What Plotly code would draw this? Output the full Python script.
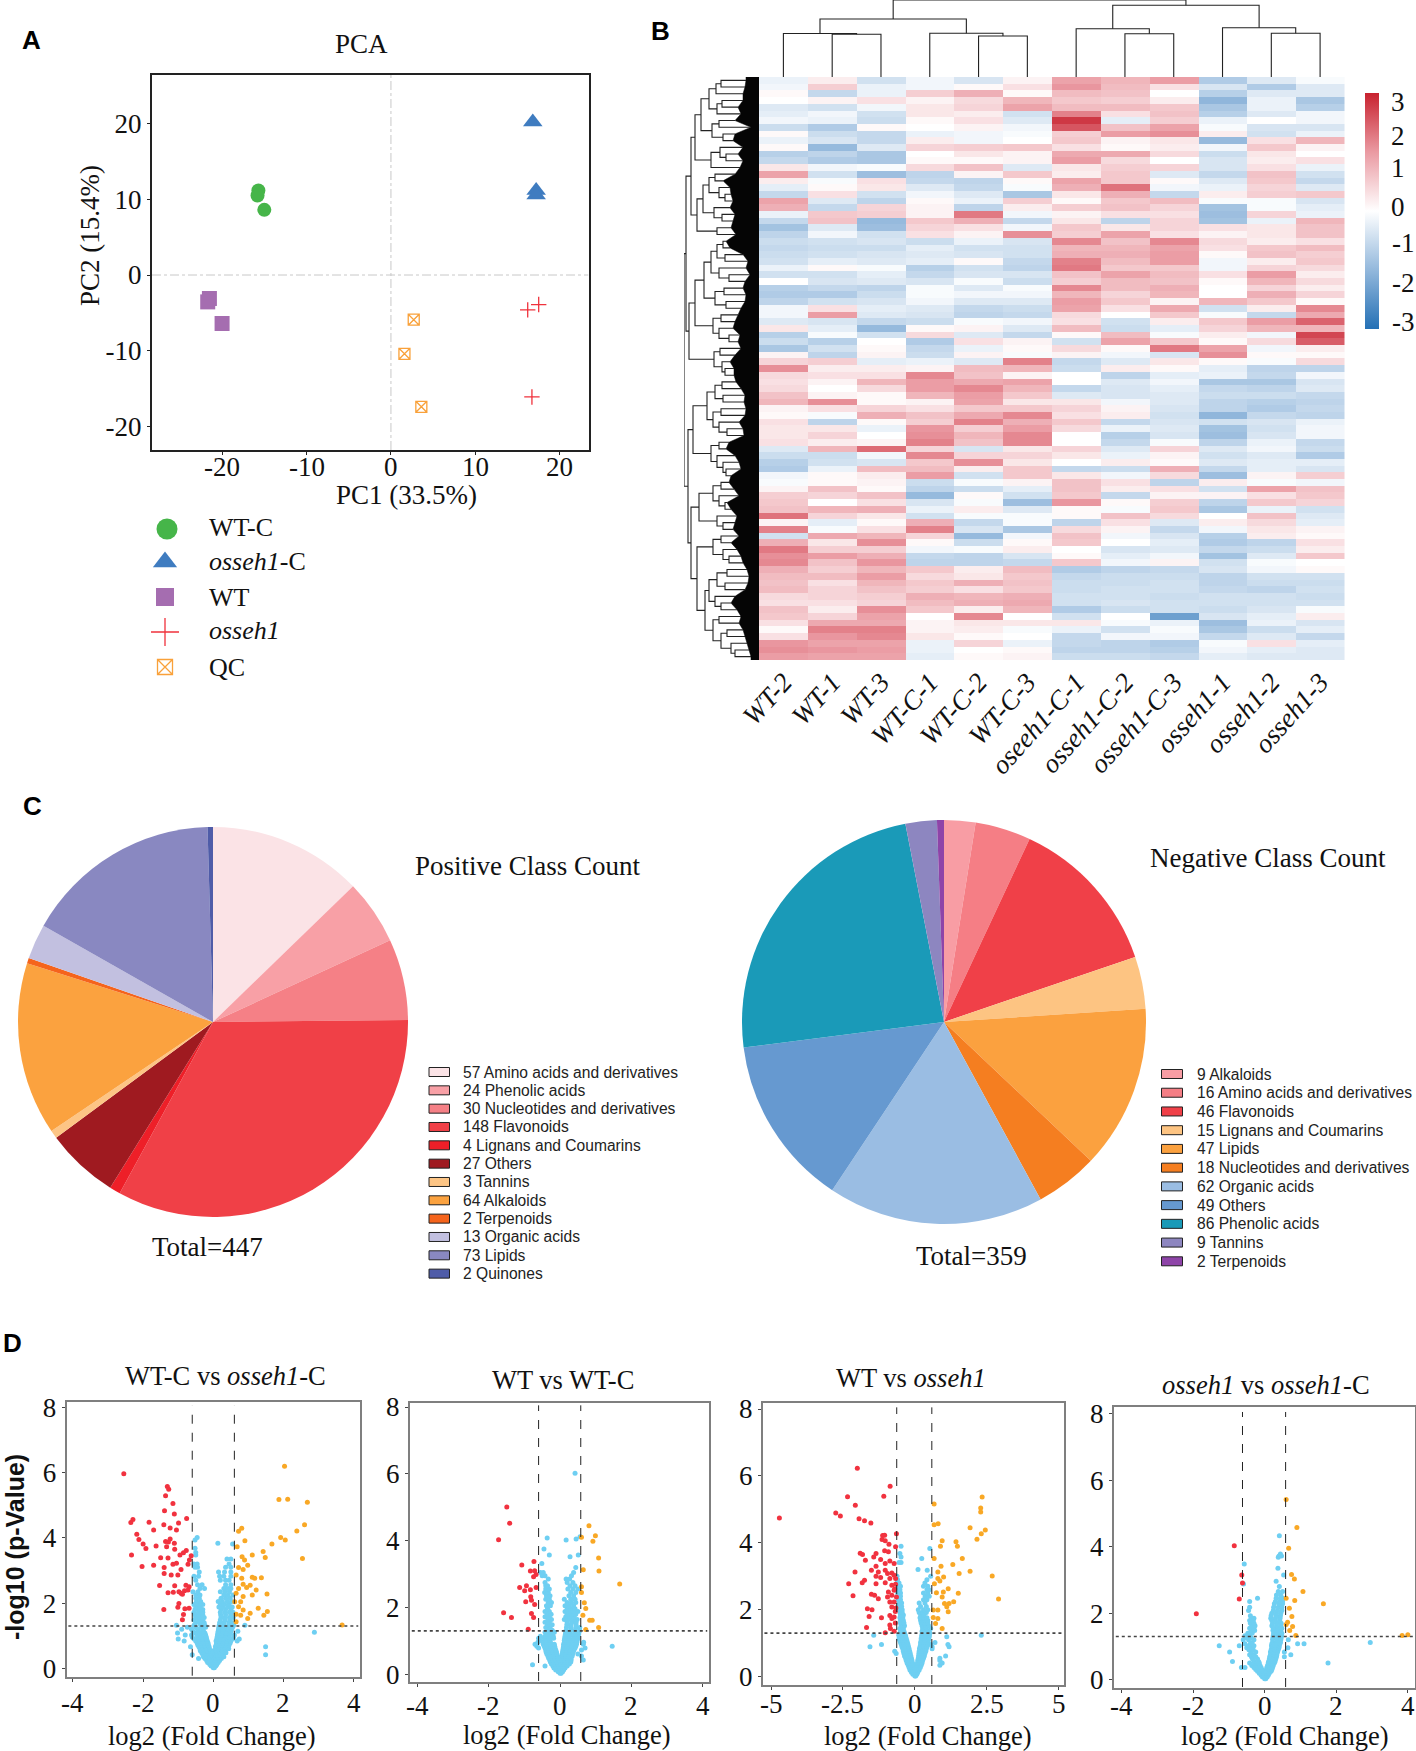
import plotly.graph_objects as go

W, H = 1416, 1751
SERIF = "Liberation Serif"
SANS = "Liberation Sans"

# ===== A: PCA =====
PCA_NAMES = ["WT-C", "<i>osseh1</i>-C", "WT", "<i>osseh1</i>", "QC"]
PCA_X = [[-15.7, -15.8, -15.0], [16.8, 17.2, 17.2], [-21.5, -21.7, -20.0], [17.5, 16.2, 16.7], [2.7, 1.6, 3.6]]
PCA_Y = [[11.15, 10.5, 8.6], [20.2, 11.15, 10.55], [-3.1, -3.55, -6.4], [-3.9, -4.6, -16.1], [-5.9, -10.4, -17.4]]
PCA_SYMBOLS = ["circle", "triangle-up", "square", "cross-thin-open", "square-x-open"]
PCA_SIZES = [14, 17, 15, 11, 11]
PCA_LEGEND_SIZES = [21, 21, 18, 20, 15]
PCA_COLORS = ["#46b549", "#3f7cc0", "#a56db0", "#f0323c", "#f9a13a"]

# ===== B: heatmap =====
SAMPLES = ["WT-2", "WT-1", "WT-3", "WT-C-1", "WT-C-2", "WT-C-3", "oseeh1-C-1", "osseh1-C-2", "osseh1-C-3",
           "osseh1-1", "osseh1-2", "osseh1-3"]
HEAT_ROWS = [
    [-.3,.3,-.7,-.2,-.6,.2,1.5,1.2,1.6,-1.2,-.5,-.1],
    [-.2,.8,-.3,-.2,.1,.5,1.7,1.1,.5,-.6,-1.2,-.5],
    [.1,-.9,-.3,.8,1.3,.1,1.1,1.0,0,-1.1,-.5,-.5],
    [0,.2,.5,.2,.6,1.2,.9,.8,.3,-1.7,-.3,-1.3],
    [-.5,-.7,-.2,.4,.7,1.5,1.1,1.1,.9,-1.3,-.3,-1.1],
    [-.4,-.2,-.7,.4,.3,-.7,2.0,.5,1.0,-1.1,-.5,-.2],
    [-.2,-.3,-.8,.1,.5,-.5,3.0,-.4,.8,-.3,0,-.2],
    [-.8,-1.2,.1,0,.2,-.2,2.6,1.0,1.5,-.1,-.6,-.6],
    [.1,-.8,-.9,-.3,-.2,-.1,.8,1.6,1.8,.3,-.7,-.3],
    [-.3,-.6,-.9,.3,-.2,0,.9,.2,.4,-1.6,.5,1.2],
    [.1,-1.6,-.5,.7,.8,.9,.5,.1,.3,-.2,.9,.2],
    [-1.1,-1.0,-1.3,0,.4,.2,1.4,1.4,.6,-.8,.4,0],
    [-.9,-1.2,-1.3,.1,.1,.2,1.6,.6,0,-.6,.3,.5],
    [.4,-.2,-.1,.6,1.0,-.5,.4,.8,.7,-.6,.5,-.3],
    [1.5,-.7,-1.5,-1.0,.2,.9,.3,.9,-.5,-.9,1.0,-.7],
    [.3,-.1,.5,-.9,-1.0,.1,1.5,.9,.1,-.5,.9,-.9],
    [-.4,.1,.4,-.5,-.9,-.1,1.3,2.2,-.2,-.3,.7,-.5],
    [-.9,.5,-.7,-.2,-.5,-1.3,.4,1.3,-.9,.3,.8,.9],
    [1.5,-.5,-1.0,.1,-.3,.8,.1,.9,1.1,-.1,-.1,-.6],
    [1.3,-.9,.7,.2,-1.0,.3,.8,1.0,.7,-1.4,-.1,-.4],
    [-.3,.9,.8,.2,2.1,-.2,.2,.5,.5,-1.5,.7,-.3],
    [-.9,1.0,-1.6,.9,1.3,-.9,.4,-1.0,.7,-1.4,-.3,1.2],
    [-1.4,-.5,-1.5,.7,.5,-.2,.9,.4,.7,.5,.4,1.0],
    [-1.0,-.2,-.7,.5,.2,1.8,.8,1.5,.5,.2,.4,1.0],
    [-.8,-.7,-.6,-.8,-.3,-.6,1.9,1.0,1.9,.6,.3,.5],
    [-.9,-.8,-.8,-.4,-.7,-.7,1.2,1.2,1.5,.5,.9,1.1],
    [-.8,-.7,-.6,-.5,-.6,-.7,1.3,1.3,1.6,.1,1.0,.8],
    [-.7,-.4,-.5,-.4,.1,-.9,2.0,1.1,1.6,-.2,.3,.9],
    [-.3,.1,-.1,-1.1,-.7,-1.0,2.1,.9,.9,-.2,.7,.6],
    [-.7,-.7,-.4,-.9,-.6,-.6,1.0,1.5,1.1,.5,1.6,.3],
    [0,-.6,-.5,-.6,-.1,-.8,.8,1.1,1.0,.1,1.2,.6],
    [-1.1,-.9,-1.0,-.1,-.5,-.1,1.9,1.1,1.3,0,.7,.3],
    [-1.2,-1.2,-.8,-.1,-.2,-.2,1.2,.7,1.2,0,1.3,.7],
    [-1.0,-.7,-.6,-.2,-.5,-.5,1.6,.9,.2,1.2,.9,.1],
    [-.2,.5,-.4,-.5,-.9,-.8,1.5,.5,1.4,-.7,.3,1.9],
    [-.2,1.6,-.5,-.6,-1.0,-.9,.6,0,.9,-.1,-.9,1.4],
    [-.5,-.6,-.9,-.8,-.1,-.2,.5,-.7,.3,.9,1.6,2.4],
    [.4,-.4,-1.6,.1,.2,-.5,1.1,-.8,-.4,.7,1.2,1.2],
    [-1.1,-.1,-.7,.6,-.5,-.9,.1,1.1,-.1,.3,-.2,2.8],
    [-.8,-1.1,0,-1.2,.5,.2,-.7,1.5,.9,.1,.6,2.5],
    [-1.3,-.7,.1,-.9,-.3,.1,.6,.1,2.1,1.5,-.2,.3],
    [.2,-1.0,.2,-.8,.2,-.1,.2,-.2,-.6,1.8,.1,.1],
    [.7,.8,-.4,-.3,-.5,2.0,-.9,-.5,.4,.1,-.1,.6],
    [1.8,.3,.3,.2,1.1,1.2,-.8,.3,.1,-.4,-1.0,-1.0],
    [.6,.5,.5,1.9,1.0,.2,0,-1.0,-.4,-.3,-.9,-.2],
    [.5,.2,1.2,1.6,1.4,1.5,0,-.5,-.2,-1.3,-1.3,-.6],
    [.6,0,.6,1.6,1.9,1.2,-.9,-.6,-.4,-.9,-1.0,-.5],
    [1.0,.2,.1,1.2,1.6,.9,-.5,-.6,-.5,-.8,-.8,-.9],
    [1.2,1.8,.1,.2,1.5,.4,.4,-.2,-.5,-1.0,-1.1,-1.0],
    [.2,.5,.7,.5,.9,.9,.7,.2,-.6,-1.0,-1.2,-.9],
    [.1,-.1,1.3,1.0,1.4,1.9,.5,.3,-.7,-1.7,-.9,-1.0],
    [.5,-1.0,.1,.8,2.0,1.3,.9,-.9,-.6,-.7,-.6,-.3],
    [.4,.4,-.3,1.7,.8,1.6,.6,-.3,-.5,-1.4,-.7,-.2],
    [.4,.7,0,1.8,1.2,1.9,0,-1.1,-.6,-1.5,-.6,-.2],
    [.5,.3,.2,2.0,1.0,1.9,0,-.9,-.1,-1.0,-.3,-.9],
    [-.5,1.2,2.3,.7,-.6,.4,.7,-.5,.7,-.5,-.2,-.8],
    [-.8,-.8,-.2,1.9,.7,.7,.4,-.3,.2,-.7,-.5,-1.2],
    [-1.1,-.7,-.6,.9,1.8,.4,0,.3,.1,-.5,-.4,-.4],
    [-1.2,-.3,1.1,1.1,.3,.9,-.9,-.8,1.3,-.9,-.4,-.6],
    [-.2,.1,.3,1.6,-.7,.9,.4,-.2,.6,-1.5,.2,.8],
    [-.1,.1,.2,-.8,-.1,.2,1.0,.5,-1.0,.3,-.1,-.2],
    [.2,1.0,.1,-1.0,-.8,-.4,1.0,.3,.5,-.7,1.5,1.0],
    [.8,.7,1.0,-1.6,.1,-.7,.9,-.9,.2,.2,.5,.9],
    [.9,0,.5,-.6,-.1,-1.5,1.7,.1,.8,-1.0,.9,.7],
    [1.0,1.2,1.3,-.3,.3,-.5,.1,-.1,.9,-1.3,-.3,-.7],
    [2.2,.7,.4,-.7,-.1,-.1,.1,1.0,.6,0,1.0,-.5],
    [.2,-.4,.1,1.3,-.9,-.1,-1.0,.5,-.5,.3,.6,-.4],
    [2.0,-.1,.5,2.0,-.6,-1.3,.6,.2,-.9,-.2,.4,.2],
    [-.7,1.4,1.2,.7,-1.6,-.2,1.0,-.2,-.6,-1.1,.3,.1],
    [1.3,.4,1.8,.1,-.8,.1,.9,0,-.4,-1.2,-1.0,.5],
    [2.1,.8,.8,-.2,-.1,.3,0,-.6,-.5,-.9,-.8,.3],
    [1.8,1.6,1.3,-.9,-1.0,-.6,.1,-.4,-.2,-1.4,-.5,.9],
    [1.9,1.0,1.7,-1.0,-1.0,-.9,.9,-.2,.2,-.7,-.1,0],
    [1.3,.8,1.2,.9,.3,1.1,-1.2,-1.0,-.9,-.6,-.2,.1],
    [1.1,1.1,1.6,.6,.4,.9,-.9,-.8,-.8,-1.0,-.7,-.7],
    [1.0,.5,1.2,.9,1.3,1.0,-.8,-.8,-.7,-1.0,-.8,-.8],
    [1.1,.7,1.0,.8,.5,.9,-.8,-.7,-.7,-.9,-1.0,-.7],
    [.6,.7,.8,1.3,1.2,1.3,-.7,-.7,-.8,-.7,-.7,-.8],
    [.5,.5,.7,1.1,1.3,1.4,-.7,-.6,-.7,-.7,-.7,-.7],
    [1.0,.3,1.8,.9,.3,1.2,-1.2,-.8,-.7,-.8,-.6,-.1],
    [.9,.7,1.5,0,1.9,0,-.7,0,-2.2,-.6,-.4,.3],
    [.5,1.4,1.4,.2,.4,.4,.4,-.1,-.3,-1.5,-.3,-.6],
    [.1,2.0,2.0,.2,.3,-.1,-.3,-.7,-.1,-1.3,-.8,-.4],
    [.5,1.7,1.9,.4,.1,0,-.9,-.2,-.2,-.9,-.5,-.9],
    [1.7,1.5,1.5,-.3,.7,-.3,-.9,-1.0,-1.2,-.1,.5,-.4],
    [1.8,1.7,1.6,-.3,0,.1,-1.0,-1.0,-1.1,-.2,-.4,-.5],
    [1.6,1.5,1.5,-.4,.1,.2,-.8,-.8,-.9,-.4,-.5,-.5],
]
HEAT_SCALE = [[0, "#2470b5"], [0.25, "#93b8dc"], [0.5, "#ffffff"], [0.75, "#ea9aa2"], [1, "#c8222f"]]
COLORBAR_LABELS = ["3", "2", "1", "0", "-1", "-2", "-3"]
COLORBAR_LABEL_Y = [102, 136, 168, 207, 243, 283, 322]

# dendrograms: (merge height, child, child), a bare number is a leaf index
COL_TREE = (77, (58, (43.5, 0, (42.7, 1, 2)), (43.7, 3, (41, 4, 5))),
            (71.7, (48.3, 6, (43.3, 7, 8)), (49.3, 9, (43.7, 10, 11))))
ROW_DEPTH = [13, 14, 16, 16, 21, 18, 24, 8, 24, 26, 16, 21, 16, 19, 24, 36, 29, 28, 26, 29, 24, 26, 28, 23, 33, 29,
             16, 11, 13, 9, 14, 16, 13, 14, 18, 21, 24, 26, 19, 21, 18, 24, 29, 25, 25, 23, 18, 14, 15, 13, 14, 20,
             16, 15, 30, 33, 24, 20, 18, 28, 30, 25, 20, 32, 28, 22, 24, 26, 20, 28, 22, 18, 16, 12, 10, 11, 14, 24,
             28, 22, 18, 20, 16, 14, 12, 10, 8]
TA = (50, (43, (38, 0, 1), 2), (42, (37, 3, 4), 5))
TB = (47, (40, 6, 7), (36, 8, 9))
TC = (48, (39, 10, (33, 11, 12)), 13)
TD = (50, (44, 14, 15), (40, 16, (34, 17, 18)))
TE = (45, 19, (37, 20, 21))
TF = (42, 22, 23)
TG = (55, (48, (42, (36, 24, 25), (34, 26, 27)), (40, 28, (30, 29, 30))), (44, (35, 31, 32), (33, 33, 34)))
TH = (46, (38, 35, 36), (40, 37, (30, 38, 39)))
TI = (45, (39, 40, 41), (37, 42, (34, 43, 44)))
TJ = (52, (44, (37, 45, 46), (36, 47, 48)), (46, (38, 49, 50), (40, 51, (32, 52, 53))))
TK = (48, (40, 54, 55), (42, 56, (36, 57, (33, 58, 59))))
TL = (46, (38, 60, 61), (40, 62, (34, 63, 64)))
TM = (42, 65, (36, 66, 67))
TN = (46, (38, 68, 69), (36, 70, (30, 71, 72)))
TO = (50, (42, (32, 73, 74), (34, 75, 76)), (44, 77, (38, 78, 79)))
TP = (46, (40, 80, 81), (38, (32, 82, 83), (28, 84, (24, 85, 86))))
ROW_TREE = (75, (73, (68, (64, (58, TA, TB), TC), (62, (56, TD, TE), TF)), (70, (64, TG, TH), TI)),
            (71, (66, TJ, TK), (68, (60, TL, TM), (62, TN, (54, TO, TP)))))

# ===== C: pies =====
POS_LABELS = ["Amino acids and derivatives", "Phenolic acids", "Nucleotides and derivatives", "Flavonoids",
              "Lignans and Coumarins", "Others", "Tannins", "Alkaloids", "Terpenoids", "Organic acids", "Lipids", "Quinones"]
POS_VALUES = [57, 24, 30, 148, 4, 27, 3, 64, 2, 13, 73, 2]
POS_COLORS = ["#fbe3e6", "#f8a0a6", "#f58086", "#f04047", "#ee1f28", "#9f1a20", "#fdc585", "#fba23f", "#f5641c",
              "#c2c0e0", "#8988c1", "#4f5ca8"]
NEG_LABELS = ["Alkaloids", "Amino acids and derivatives", "Flavonoids", "Lignans and Coumarins", "Lipids",
              "Nucleotides and derivatives", "Organic acids", "Others", "Phenolic acids", "Tannins", "Terpenoids"]
NEG_VALUES = [9, 16, 46, 15, 47, 18, 62, 49, 86, 9, 2]
NEG_COLORS = ["#f89da4", "#f57e85", "#f04048", "#fdc482", "#fba13f", "#f57e20", "#9abde3", "#6699d0", "#1a9ab8",
              "#8d86c0", "#8e44a8"]

# ===== D: volcanoes (x, y) =====
P1_RED = [(-2.55,5.96),(-1.31,5.57),(-1.27,5.49),(-1.15,5.05),(-1.36,5.29),(-1.39,4.83),(-1.11,4.73),(-.76,4.59),
          (-2.35,4.47),(-2.29,4.56),(-1.83,4.48),(-1.41,4.40),(-.99,4.45),(-1.23,4.30),(-1.05,4.24),(-1.70,4.24),
          (-2.18,4.11),(-2.12,3.95),(-2.0,3.81),(-1.92,3.67),(-1.63,3.75),(-1.36,3.89),(-1.23,3.96),(-1.28,3.87),
          (-1.11,3.83),(-1.33,3.73),(-1.10,3.65),(-.77,3.61),(-.85,3.54),(-2.33,3.47),(-1.50,3.39),(-1.29,3.38),
          (-.95,3.47),(-.63,3.45),(-.68,3.32),(-2.03,3.12),(-1.70,3.16),(-1.40,3.09),(-1.15,3.19),(-1.05,3.22),
          (-.72,3.19),(-1.40,2.91),(-1.20,2.86),(-1.01,2.86),(-.92,3.03),(-1.53,2.54),(-1.10,2.53),(-.78,2.55),
          (-.69,2.50),(-1.29,2.32),(-1.14,2.33),(-.98,2.35),(-.92,2.30),(-.82,2.38),(-.72,2.40),(-.88,2.27),
          (-.98,1.99),(-1.01,1.87),(-1.41,1.80),(-.81,1.83),(-.69,1.84),(-.85,1.65),(-.88,1.49)]
P1_ORANGE = [(2.03,6.19),(1.87,5.17),(2.12,5.18),(2.68,5.09),(2.60,4.40),(2.38,4.21),(1.92,4.01),(2.05,3.93),(.81,4.29),
             (.72,4.20),(.90,3.91),(1.67,3.81),(1.42,3.58),(1.48,3.40),(1.11,3.47),(2.54,3.37),(.82,3.42),(.89,3.32),
             (.68,3.73),(.98,3.16),(.72,3.09),(.85,3.03),(1.11,2.79),(1.37,2.78),(.65,2.86),(.81,2.76),(1.18,2.76),
             (1.05,2.55),(.85,2.58),(.72,2.45),(.95,2.48),(1.22,2.40),(1.53,2.28),(.65,2.30),(.85,2.20),(1.11,2.25),
             (.61,2.04),(.78,2.04),(.72,1.89),(.85,1.79),(1.28,1.84),(1.54,1.74),(1.44,1.63),(.65,1.66),(1.05,1.69),
             (.78,1.63),(.98,1.53),(.65,1.43),(3.67,1.33)]
P1_BLUE = {.02:[0,.03], .07:[-.06,.01,.07], .12:[-.1,-.04,.03,.1], .18:[-.16,-.08,-.01,.06,.14],
           .24:[-.19,-.12,-.04,.03,.1,.18], .3:[-.42,-.24,-.15,-.07,.01,.08,.15,.23],
           .36:[-.28,-.18,-.1,-.02,.06,.13,.21,.3], .42:[-.6,-.3,-.22,-.13,-.05,.04,.12,.2,.28,1.49],
           .48:[-.33,-.24,-.16,-.07,.03,.1,.18,.26,.36], .54:[-.37,-.27,-.18,-.09,0,.08,.17,.25,.34],
           .6:[-.38,-.29,-.2,-.11,.07,.15,.24,.33,.44], .66:[-.65,-.41,-.31,-.22,-.12,.06,.14,.23,.32,.42,1.49],
           .72:[-.44,-.34,-.24,-.14,.08,.16,.25,.35,.45], .78:[-.46,-.36,-.26,-.15,.09,.18,.27,.37,.48],
           .84:[-.83,-.5,-.38,-.28,-.17,.08,.17,.28,.38,.5,.68], .9:[-1.0,-.55,-.41,-.3,-.19,.1,.2,.3,.42,.55,.74],
           .96:[-.6,-.44,-.33,-.2,.11,.22,.32,.44,.58], 1.02:[-.8,-.62,-.46,-.35,-.22,.12,.23,.34,.46,.6],
           1.08:[-1.02,-.52,-.38,-.24,.13,.24,.36,.48], 1.11:[2.88], 1.14:[-.58,-.42,-.28,.14,.26,.38,.5,.7],
           1.2:[-.9,-.62,-.45,-.3,.15,.27,.4,.52], 1.26:[-.74,-.5,-.34,-.22,.16,.28,.42,.55],
           1.32:[-1.05,-.55,-.36,-.24,.17,.3,.44,.58,.9], 1.4:[-.5,-.38,-.26,.18,.3,.44,.56],
           1.48:[-.55,-.42,-.3,.2,.34,.48], 1.56:[-.5,-.38,-.26,.22,.33,.46,.57], 1.64:[-.52,-.4,-.3,.21,.35,.5],
           1.72:[-.55,-.42,-.3,.2,.33,.46,.56], 1.8:[-.52,-.4,-.3,.22,.35,.5], 1.88:[-.5,-.38,.16,.28,.42,.54],
           1.96:[-.55,-.42,-.3,.2,.32,.45], 2.05:[-.48,-.36,.14,.26,.4,.52], 2.15:[-.5,-.4,.22,.35,.48],
           2.25:[-.5,-.38,.3,.42,.56], 2.35:[-.58,-.44,.2,.33,.46], 2.45:[-.38,-.25,.3,.42,.5], 2.56:[-.45,-.32,.35,.5],
           2.7:[-.5,.2,.35,.45], 2.82:[-.55,-.42,.18,.3,.5], 2.95:[-.4,.15,.32,.5], 3.1:[-.52,-.45,.35,.5],
           3.2:[-.55,-.46,.45], 3.35:[.39,.5], 3.47:[-.5], 3.55:[-.5], 3.68:[-.52], 3.81:[.55], 3.83:[.13], 3.93:[-.52], 4.01:[-.46]}

P2_RED = [(-1.49,5.01),(-1.41,4.52),(-1.72,4.03),(-.73,3.38),(-1.07,3.27),(-.83,3.09),(-.71,3.10),(-.67,2.99),(-.74,2.92),
          (-1.13,2.6),(-.94,2.65),(-.67,2.6),(-.99,2.5),(-.83,2.53),(-.96,2.17),(-.82,2.32),(-.8,2.22),(-.71,2.09),
          (-1.58,1.84),(-1.36,1.7),(-.8,1.82),(-.74,1.7),(-.89,1.35)]
P2_ORANGE = [(.81,4.45),(.99,4.15),(.6,4.1),(.92,3.98),(1.08,3.48),(1.09,3.09),(.65,3.13),(1.67,2.7),(.6,2.62),(.6,2.45),
             (.68,2.14),(.72,1.97),(.64,1.77),(.83,1.62),(.9,1.62),(1.08,1.4),(.72,1.34)]
P2_BLUE = {.03:[0,.03], .08:[-.05,.02,.07], .13:[-.12,-.05,.03,.1], .19:[-.17,-.08,-.01,.06,.14],
           .25:[-.42,-.2,-.12,-.04,.04,.12,.2], .29:[-.77], .31:[-.24,-.15,-.06,.02,.1,.18,.26],
           .37:[-.27,-.18,-.09,.07,.14,.22,.3], .43:[-.29,-.2,-.11,-.03,.05,.13,.22,.31,.65],
           .49:[-.32,-.23,-.14,-.06,.04,.12,.21,.31], .55:[-.34,-.25,-.16,-.07,.06,.15,.24,.34,.6],
           .61:[-.37,-.28,-.18,-.09,.06,.15,.25,.35,.5], .67:[-.39,-.3,-.2,-.1,.07,.16,.27,.37],
           .73:[-.4,-.31,-.22,-.12,.08,.18,.28,.39,.6], .79:[-.6,-.42,-.33,-.24,-.14,.09,.19,.3,.42,.7],
           .84:[-.65,-.44,-.34,-.25,-.15,.1,.2,.32,.44,1.46], .9:[-.7,-.47,-.36,-.26,-.16,.1,.22,.33,.46,.65],
           .96:[-.62,-.48,-.37,-.27,.12,.23,.35,.47,.66], 1.02:[-.55,-.4,-.28,.12,.24,.36,.48],
           1.08:[-.6,-.44,-.3,-.18,.13,.25,.38,.5], 1.14:[-.55,-.42,-.31,-.19,.14,.26,.38,.5],
           1.2:[-.35,-.22,.15,.27,.4,.52], 1.26:[-.42,-.28,-.16,.16,.28,.42,.53], 1.32:[-.34,-.22,.17,.3,.42,.55],
           1.4:[-.4,-.28,.18,.3,.44,.55], 1.48:[-.35,-.22,.19,.31,.45], 1.56:[-.42,-.3,.2,.33,.45],
           1.64:[-.34,-.24,.12,.24,.36,.48], 1.72:[-.42,-.3,.16,.28,.4], 1.8:[-.36,-.25,.2,.32,.44],
           1.88:[-.3,-.42,.14,.26,.38,.5], 1.96:[-.35,.2,.3,.42], 2.05:[-.38,-.27,.14,.26,.38],
           2.15:[-.33,-.24,.2,.32,.44], 2.25:[-.4,-.3,.12,.3,.42], 2.35:[-.38,-.28,.25,.38], 2.45:[-.43,-.33,.3,.44],
           2.55:[-.4,-.3,.22,.36,.5], 2.65:[-.4,-.35,.28,.42], 2.75:[-.42,.2,.36], 2.85:[-.33,.17,.27],
           2.95:[-.5,-.42,.32], 3.05:[-.55,-.47,.38], 3.2:[.44], 3.32:[-.51], 3.52:[.28], 3.57:[-.3,.51],
           3.75:[-.45], 4.02:[.17], 4.05:[.45], 4.08:[-.36], 4.12:[.56], 6.02:[.42]}

P3_RED = [(-2.0,6.23),(-.86,5.69),(-2.34,5.38),(-1.08,5.39),(-2.07,5.12),(-2.75,4.89),(-2.59,4.8),(-4.71,4.74),(-1.94,4.72),
          (-1.75,4.66),(-1.53,4.59),(-.64,4.27),(-1.12,4.22),(-1.05,4.23),(-1.14,4.1),(-1.03,4.06),(-.9,3.96),(-.67,3.88),
          (-1.05,3.76),(-.92,3.73),(-1.9,3.69),(-1.82,3.65),(-1.35,3.68),(-1.43,3.58),(-1.72,3.48),(-1.19,3.5),(-.87,3.46),
          (-1.03,3.38),(-1.35,3.3),(-.72,3.38),(-2.08,3.13),(-1.51,3.18),(-1.27,3.13),(-1.03,3.18),(-.95,3.08),(-.8,3.1),
          (-.72,3.03),(-1.35,3.0),(-1.19,2.96),(-.87,2.93),(-.67,2.93),(-1.75,2.88),(-1.83,2.81),(-2.3,2.78),(-1.35,2.78),
          (-1.03,2.81),(-.8,2.73),(-.67,2.76),(-.92,2.53),(-.72,2.58),(-.8,2.43),(-2.15,2.42),(-1.51,2.46),(-1.4,2.43),
          (-1.27,2.33),(-.95,2.38),(-.87,2.23),(-.72,2.23),(-.64,2.38),(-1.65,2.03),(-1.49,2.0),(-.8,2.08),(-1.59,1.8),
          (-1.16,1.76),(-.87,1.83),(-.72,1.78),(-.8,1.74),(-1.68,1.47),(-.87,1.54),(-1.03,1.31),(-.72,1.36),(-.85,1.44),
          (-.68,1.6),(-.66,2.05),(-.7,2.62),(-.68,1.95)]
P3_ORANGE = [(2.34,5.37),(2.29,5.04),(2.29,4.92),(.67,5.16),(.81,4.57),(.67,4.54),(1.92,4.45),(2.45,4.38),(2.31,4.27),
             (2.16,4.11),(.95,4.06),(1.43,4.03),(1.48,3.9),(.89,3.9),(1.65,3.53),(.67,3.53),(1.32,3.35),(.91,3.3),(1.92,3.15),
             (1.54,3.08),(.8,3.13),(2.69,3.01),(1.0,2.98),(.8,2.93),(.87,2.86),(.68,2.78),(1.16,2.63),(.99,2.53),(.75,2.51),
             (1.51,2.49),(2.91,2.32),(.95,2.38),(1.35,2.24),(1.19,2.19),(1.03,2.19),(1.11,2.09),(.64,1.99),(.8,1.99),(1.16,1.94),
             (.64,1.77),(.8,1.74),(.72,1.59),(.95,1.44)]
P3_BLUE = {.02:[0,.03], .07:[-.07,0,.07], .13:[-.12,-.05,.03,.1], .2:[-.17,-.08,.02,.08,.15],
           .27:[-.2,-.11,-.03,.05,.12,.19], .34:[-.23,-.15,-.06,.07,.15,.22,.87], .41:[-.27,-.18,-.08,.09,.17,.25,.95],
           .48:[-.3,-.21,-.1,.1,.2,.27,.87], .55:[-.32,-.24,-.12,.12,.22,.3,.87], .62:[-.36,-.26,-.14,.13,.24,.33,1.07],
           .69:[-.65,-.38,-.28,-.16,.14,.25,.35], .76:[-.7,-.4,-.3,-.18,.15,.27,.38], .83:[-.42,-.32,-.2,.16,.29,.4,.6],
           .89:[-1.56,-.45,-.35,-.22,.18,.3,.42,.6,1.19], .96:[-1.16,-.47,-.37,-.24,.2,.3,.44,.55,1.15],
           1.02:[-.5,-.39,-.26,.2,.32,.45,.7], 1.08:[-.52,-.41,-.28,.22,.33,.47], 1.14:[-.55,-.42,-.3,.22,.34,.48],
           1.19:[-.44,-.32,.24,.35,.5,1.11], 1.24:[-1.43,-.56,-.33,.24,.36,.5,2.31], 1.3:[-.48,-.36,.26,.38,.52],
           1.36:[-.5,-.38,.25,.37,.5], 1.44:[-.52,-.4,.27,.4,.55], 1.52:[-.48,-.36,.25,.38,.48],
           1.6:[-.5,-.38,.22,.34,.45], 1.68:[-.5,-.4,.2,.32,.45], 1.76:[-.52,-.42,.18,.3,.42], 1.84:[-.5,-.4,.2,.32],
           1.92:[-.52,-.44,.15,.27,.4], 2.0:[-.55,-.44,.12,.3,.45], 2.1:[-.56,-.46,.2,.4], 2.2:[-.55,-.46,.15,.35],
           2.3:[-.58,-.5,.3,.42], 2.4:[-.58,-.5,.36,.5], 2.5:[-.6,-.5,.3,.45], 2.6:[-.6,-.52,.42,.5], 2.7:[-.58,-.5,.3,.45],
           2.8:[-.62,-.55,.35], 2.9:[-.6,.42], 3.0:[-.62,.55], 3.18:[.43], 3.2:[.11], 3.41:[-.48,-.55], 3.53:[.24],
           3.58:[-.48], 3.68:[-.52], 3.83:[.52], 3.9:[-.48]}

P4_RED = [(-.85,4.03),(-.64,3.15),(-.62,2.91),(-.71,2.43),(-1.91,1.98)]
P4_ORANGE = [(.6,5.42),(.9,4.58),(.67,3.95),(.75,3.16),(.83,3.03),(1.07,2.65),(1.64,2.28),(.6,2.45),(.84,2.38),(.69,2.15),
             (.76,1.9),(.64,1.73),(.6,1.66),(.78,1.6),(.7,1.48),(.87,1.33),(3.84,1.33),(4.0,1.35)]
P4_BLUE = {.03:[0,.03], .08:[-.06,.01,.07], .13:[-.1,-.03,.05,.1], .19:[-.15,-.07,0,.06,.13],
           .25:[-.2,-.12,-.04,.04,.11,.18], .31:[-.25,-.16,-.08,.05,.12,.2], .37:[-.65,-.55,-.3,-.2,-.1,.06,.14,.22],
           .43:[-.36,-.25,-.13,.08,.16,.24], .5:[-.42,-.28,-.15,.1,.18,.27,1.77], .55:[-.9,-.3,-.17,.11,.2,.29],
           .62:[-.34,-.2,.13,.22,.31], .69:[-.37,-.25,.14,.24,.33,.55], .75:[-.42,-.3,.16,.26,.34,.73],
           .83:[-.98,-.38,-.25,.16,.27,.36,.55], .9:[-.44,-.32,.18,.28,.38], .96:[-.5,-.38,.2,.3,.4,.65],
           1.02:[-1.27,-.71,-.45,-.3,.19,.3,.41], 1.08:[-.55,-.4,.2,.31,.42,.92,1.1], 1.12:[-.35,.22,.33,.44,2.95],
           1.2:[-.6,-.45,-.3,.22,.34,.45,.66], 1.26:[-.5,-.38,.23,.35,.46], 1.32:[-.55,-.42,.24,.36,.47],
           1.4:[-.35,-.47,.25,.37,.48], 1.48:[-.38,-.28,.23,.34,.45], 1.55:[-.42,-.3,.24,.36,.48], 1.62:[-.36,-.27,.2,.33,.45],
           1.7:[-.4,-.3,.22,.34,.46], 1.78:[-.42,-.32,.2,.3,.42], 1.85:[-.36,-.3,.17,.3,.43], 1.92:[-.4,.18,.32,.44],
           2.0:[.2,.33,.45], 2.08:[-.45,.24,.36,.48], 2.18:[-.42,.25,.38,.48], 2.28:[.27,.4,.5], 2.35:[-.42,.3,.42,.5],
           2.45:[-.2,.32,.44,.52], 2.55:[.33,.45], 2.65:[.38,.5], 2.8:[.41], 2.88:[-.59], 2.96:[.32], 3.15:[.53],
           3.35:[.37], 3.48:[-.57], 3.68:[.38], 3.72:[.4,.47], 3.78:[.44], 4.33:[.41]}

POS_NEG_TITLES = ["Positive Class Count", "Negative Class Count"]
VOLCANO_TITLES = ["WT-C vs <i>osseh1</i>-C", "WT vs WT-C", "WT vs <i>osseh1</i>", "<i>osseh1</i> vs <i>osseh1</i>-C"]
VOLCANO_THRESH = [[-.6, .6], [-.6, .58], [-.63, .59], [-.62, .585]]
P_CUT = 1.3


def dom_x(p0, p1):
    return [p0 / W, p1 / W]


def dom_y(top, bottom):
    return [(H - bottom) / H, (H - top) / H]


def note(text, x, y, size=27, family=SERIF, color="#111", angle=0, xanchor="center", bold=False):
    if bold:
        text = "<b>" + text + "</b>"
    fig.add_annotation(text=text, x=x / W, y=(H - y) / H, xref="paper", yref="paper", showarrow=False,
                       font=dict(size=size, family=family, color=color), textangle=angle,
                       xanchor=xanchor, yanchor="middle")


def xtick_labels(vals, xref, y):
    # x tick labels sit closer to the frame than plotly puts them, so they are annotations tied to the x axis
    for v in vals:
        fig.add_annotation(text=f"{v:g}", x=v, y=(H - y) / H, xref=xref, yref="paper", showarrow=False,
                           font=dict(size=27, family=SERIF, color="#111"), xanchor="center", yanchor="middle")


def tree_lines(node, leaf_h, xs, ys):
    # walks a nested merge tree, returns position along the leaves and height of the node
    if not isinstance(node, tuple):
        return node, leaf_h(node)
    h, a, b = node
    pa, ha = tree_lines(a, leaf_h, xs, ys)
    pb, hb = tree_lines(b, leaf_h, xs, ys)
    xs += [pa, pa, pb, pb, None]
    ys += [ha, h, h, hb, None]
    return (pa + pb) / 2, h


def unpack_blue(levels):
    xs, ys = [], []
    for y, vals in levels.items():
        xs += vals
        ys += [y] * len(vals)
    return xs, ys


def tick_strings(vals):
    # hyphen instead of the unicode minus, like the figure
    return [f"{v:g}" for v in vals]


fig = go.Figure()

# ===== PCA =====
for i, name in enumerate(PCA_NAMES):
    fig.add_trace(go.Scatter(x=PCA_X[i], y=PCA_Y[i], mode="markers", name=name, xaxis="x", yaxis="y",
                             marker=dict(symbol=PCA_SYMBOLS[i], size=PCA_SIZES[i], color=PCA_COLORS[i],
                                         line=dict(color=PCA_COLORS[i], width=1.3 if i > 2 else 0))))
fig.add_shape(type="line", x0=0, x1=0, y0=-23.1, y1=26.4, xref="x", yref="y", line=dict(color="#c8c8c8", width=1, dash="dashdot"))
fig.add_shape(type="line", x0=-28.3, x1=23.4, y0=0, y1=0, xref="x", yref="y", line=dict(color="#c8c8c8", width=1, dash="dashdot"))

# PCA legend glyphs, on a full page overlay in pixels
LEG_PCA_X = [167, 165, 165, 165, 165]
LEG_PCA_Y = [529, 562, 597, 632, 667]
LEG_PCA_TY = [527, 561, 597, 630, 667]
for i, name in enumerate(PCA_NAMES):
    fig.add_trace(go.Scatter(x=[LEG_PCA_X[i]], y=[LEG_PCA_Y[i]], mode="markers", xaxis="x9", yaxis="y9",
                             marker=dict(symbol=PCA_SYMBOLS[i], size=PCA_LEGEND_SIZES[i], color=PCA_COLORS[i],
                                         line=dict(color=PCA_COLORS[i], width=1.3 if i > 2 else 0))))
    note(name, 207, LEG_PCA_TY[i], size=26, xanchor="left")

# ===== Heatmap =====
fig.add_trace(go.Heatmap(z=HEAT_ROWS, x=list(range(12)), y=list(range(len(HEAT_ROWS))), xaxis="x2", yaxis="y2",
                         colorscale=HEAT_SCALE, zmin=-3.3, zmax=3.3, showscale=True,
                         colorbar=dict(x=1365 / W, xanchor="left", y=(H - 211) / H, yanchor="middle", len=236 / H,
                                       thickness=14, xpad=0, ypad=0, outlinewidth=0, ticks="", showticklabels=False)))
for lab, ly in zip(COLORBAR_LABELS, COLORBAR_LABEL_Y):
    note(lab, 1403 if lab.startswith("-") else 1398, ly, size=27)

xs, ys = [], []
tree_lines(COL_TREE, lambda leaf: 0, xs, ys)
fig.add_trace(go.Scatter(x=xs, y=ys, mode="lines", xaxis="x3", yaxis="y3", line=dict(color="#222", width=1.1)))

# black mass of the row leaves, then the row tree on top
mass_y = [-.5] + list(range(len(ROW_DEPTH))) + [len(ROW_DEPTH) - .5]
mass_x = [-ROW_DEPTH[0]] + [-d for d in ROW_DEPTH] + [-ROW_DEPTH[-1]]
fig.add_trace(go.Scatter(x=mass_x, y=mass_y, mode="lines", fill="tozerox", fillcolor="#050505", xaxis="x4", yaxis="y4",
                         line=dict(color="#050505", width=0.5)))
xs, ys = [], []
tree_lines(ROW_TREE, lambda leaf: ROW_DEPTH[leaf], ys, xs)
fig.add_trace(go.Scatter(x=[None if v is None else -v for v in xs], y=ys, mode="lines", xaxis="x4", yaxis="y4",
                         line=dict(color="#222", width=1.1)))

# ===== Pies =====
fig.add_trace(go.Pie(labels=POS_LABELS, values=POS_VALUES, sort=False, direction="clockwise", rotation=0,
                     textinfo="none", marker=dict(colors=POS_COLORS), domain=dict(x=dom_x(18, 408), y=dom_y(827, 1217))))
fig.add_trace(go.Pie(labels=NEG_LABELS, values=NEG_VALUES, sort=False, direction="clockwise", rotation=0,
                     textinfo="none", marker=dict(colors=NEG_COLORS), domain=dict(x=dom_x(742, 1146), y=dom_y(820, 1224))))

for i in range(len(POS_LABELS)):
    yc = 1072 + 18.33 * i
    fig.add_shape(type="rect", xref="paper", yref="paper", x0=429 / W, x1=449.5 / W, y0=(H - yc - 4.5) / H, y1=(H - yc + 4.5) / H,
                  fillcolor=POS_COLORS[i], line=dict(color="#222", width=1))
    note(f"{POS_VALUES[i]} {POS_LABELS[i]}", 461, yc, size=15.6, family=SANS, color="#222", xanchor="left")
for i in range(len(NEG_LABELS)):
    yc = 1074 + 18.73 * i
    fig.add_shape(type="rect", xref="paper", yref="paper", x0=1161.5 / W, x1=1182.5 / W, y0=(H - yc - 4.5) / H, y1=(H - yc + 4.5) / H,
                  fillcolor=NEG_COLORS[i], line=dict(color="#222", width=1))
    note(f"{NEG_VALUES[i]} {NEG_LABELS[i]}", 1194.5, yc, size=15.6, family=SANS, color="#222", xanchor="left")

note(POS_NEG_TITLES[0], 528, 866)
note(POS_NEG_TITLES[1], 1268, 858)
note("Total=447", 207, 1247)
note("Total=359", 971, 1256)

# ===== Volcanoes =====
VOL_RED = [P1_RED, P2_RED, P3_RED, P4_RED]
VOL_ORANGE = [P1_ORANGE, P2_ORANGE, P3_ORANGE, P4_ORANGE]
VOL_BLUE = [P1_BLUE, P2_BLUE, P3_BLUE, P4_BLUE]
VOL_BOX = [(66.6, 360, 1401.7, 1676.7), (410, 709, 1403, 1682), (763, 1064.4, 1403, 1685), (1114, 1415, 1407, 1688)]
VOL_XRANGE = [[-4.18, 4.18], [-4.2, 4.17], [-5.28, 5.2], [-4.21, 4.2]]
VOL_YRANGE = [[-.255, 8.17], [-.23, 8.12], [-.25, 8.18], [-.25, 8.2]]
VOL_XTICKS = [[-4, -2, 0, 2, 4], [-4, -2, 0, 2, 4], [-5, -2.5, 0, 2.5, 5], [-4, -2, 0, 2, 4]]
VOL_TITLE_POS = [(225.5, 1376), (563, 1380), (911, 1378), (1266, 1385)]
VOL_XLABEL_POS = [(212, 1736), (567, 1735), (928, 1736), (1285, 1736)]
VOL_TICK_Y = [1703, 1706, 1704, 1706]

for i in range(4):
    ax = str(i + 5)
    bx, by = unpack_blue(VOL_BLUE[i])
    fig.add_trace(go.Scatter(x=bx, y=by, mode="markers", xaxis="x" + ax, yaxis="y" + ax,
                             marker=dict(size=5, color="#6ecff2")))
    for pts, col in ((VOL_RED[i], "#f1323f"), (VOL_ORANGE[i], "#f9a825")):
        fig.add_trace(go.Scatter(x=[p[0] for p in pts], y=[p[1] for p in pts], mode="markers",
                                 xaxis="x" + ax, yaxis="y" + ax, marker=dict(size=5, color=col)))
    for t in VOLCANO_THRESH[i]:
        fig.add_shape(type="line", xref="x" + ax, yref="y" + ax, x0=t, x1=t, y0=VOL_YRANGE[i][0] + .03, y1=8.05,
                      line=dict(color="#222", width=1, dash="dash"))
    fig.add_shape(type="line", xref="x" + ax, yref="y" + ax, x0=VOL_XRANGE[i][0] + .05, x1=VOL_XRANGE[i][1] - .05, y0=P_CUT, y1=P_CUT,
                  line=dict(color="#444", width=1.6, dash="dot"))
    xtick_labels(VOL_XTICKS[i], "x" + ax, VOL_TICK_Y[i])
    note(VOLCANO_TITLES[i], VOL_TITLE_POS[i][0], VOL_TITLE_POS[i][1], size=26.5)
    note("log2 (Fold Change)", VOL_XLABEL_POS[i][0], VOL_XLABEL_POS[i][1], size=26.5)

note("-log10 (p-Value)", 15, 1547, size=25, family=SANS, angle=-90, bold=True)

# ===== Panel texts =====
PCA_TICKS = [-20, -10, 0, 10, 20]
xtick_labels(PCA_TICKS, "x", 467)
note("A", 31, 40, size=26, family=SANS, color="#000", bold=True)
note("B", 660, 31, size=26, family=SANS, color="#000", bold=True)
note("C", 32, 806, size=26, family=SANS, color="#000", bold=True)
note("D", 12, 1343, size=26, family=SANS, color="#000", bold=True)
note("PCA", 361, 44)
note("PC1 (33.5%)", 406, 495)
note("PC2 (15.4%)", 90, 236, angle=-90)

axis_font = dict(family=SERIF, size=27, color="#111")
layout_axes = dict(
    xaxis=dict(domain=dom_x(152, 588.5), range=[-28.3, 23.4], tickvals=PCA_TICKS, showticklabels=False, anchor="y",
               automargin=False, showgrid=False, zeroline=False, showline=True, mirror=True, linecolor="#222", linewidth=2,
               ticks="outside", ticklen=3, tickcolor="#222"),
    yaxis=dict(domain=dom_y(75, 450), range=[-23.1, 26.4], tickvals=PCA_TICKS, ticktext=tick_strings(PCA_TICKS), anchor="x",
               automargin=False, showgrid=False, zeroline=False, showline=True, mirror=True, linecolor="#222", linewidth=2,
               ticks="outside", ticklen=3, tickcolor="#222", tickfont=axis_font),
    xaxis2=dict(domain=dom_x(759, 1344.5), range=[-.5, 11.5], anchor="y2", showgrid=False, zeroline=False, automargin=False,
                tickvals=list(range(12)), ticktext=["<i>" + s + "</i>" for s in SAMPLES], tickangle=-48, ticks="",
                tickfont=dict(family=SERIF, size=27, color="#111")),
    yaxis2=dict(domain=dom_y(77, 660), range=[len(HEAT_ROWS) - .5, -.5], anchor="x2", visible=False, automargin=False),
    xaxis3=dict(domain=dom_x(759, 1344.5), range=[-.5, 11.5], anchor="y3", visible=False, automargin=False),
    yaxis3=dict(domain=dom_y(0, 77), range=[0, 77], anchor="x3", visible=False, automargin=False),
    xaxis4=dict(domain=dom_x(684, 759), range=[-75, 0], anchor="y4", visible=False, automargin=False),
    yaxis4=dict(domain=dom_y(77, 660), range=[len(HEAT_ROWS) - .5, -.5], anchor="x4", visible=False, automargin=False),
    xaxis9=dict(domain=[0, 1], range=[0, W], anchor="y9", visible=False, automargin=False),
    yaxis9=dict(domain=[0, 1], range=[H, 0], anchor="x9", visible=False, automargin=False),
)
for i in range(4):
    box = VOL_BOX[i]
    ax = str(i + 5)
    common = dict(automargin=False, showgrid=False, zeroline=False, showline=True, mirror=True, linecolor="#7f7f7f",
                  linewidth=2, ticks="outside", ticklen=3, tickcolor="#444")
    layout_axes["xaxis" + ax] = dict(domain=dom_x(box[0], box[1]), range=VOL_XRANGE[i], tickvals=VOL_XTICKS[i],
                                     showticklabels=False, anchor="y" + ax, **common)
    layout_axes["yaxis" + ax] = dict(domain=dom_y(box[2], box[3]), range=VOL_YRANGE[i], tickvals=[0, 2, 4, 6, 8],
                                     tickfont=axis_font, anchor="x" + ax, **common)

fig.update_layout(width=W, height=H, margin=dict(l=0, r=0, t=0, b=0, pad=0), showlegend=False,
                  paper_bgcolor="white", plot_bgcolor="rgba(0,0,0,0)", **layout_axes)

fig.write_html("out.html", post_script="document.body.style.margin='0';", config={"displayModeBar": False})
